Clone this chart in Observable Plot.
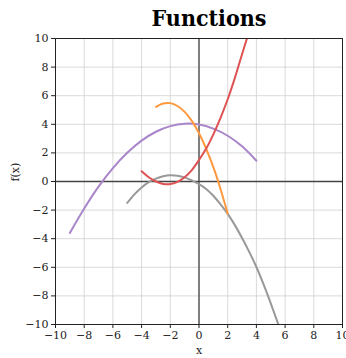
<!DOCTYPE html>
<html><head><meta charset="utf-8">
<script src="https://cdn.jsdelivr.net/npm/d3@7"></script>
<script src="https://cdn.jsdelivr.net/npm/@observablehq/plot@0.6"></script>
<style>body{margin:0;background:#fff;}</style>
</head><body><div id="chart"></div>
<script>
const tickValues = [-10, -8, -6, -4, -2, 0, 2, 4, 6, 8, 10];

const seriesNames = ["f1", "f2", "f3", "f4"];
const seriesColors = ["#999999", "#a985ca", "#ff993e", "#de5253"];

const xGray = [-5, -4.5, -4, -3.5, -3, -2.5, -2, -1.5, -1, -0.5, 0, 0.5, 1, 1.5, 2, 2.5, 3, 3.5, 4, 4.5, 5, 5.53];
const yGray = [-1.5, -0.9, -0.42, -0.05, 0.2, 0.37, 0.44, 0.41, 0.29, 0.08, -0.18, -0.52, -1.0, -1.6, -2.26, -3.05, -3.95, -4.92, -5.98, -7.2, -8.52, -10];

const xPurple = [-9, -8, -7, -6, -5, -4, -3, -2, -1, 0, 1, 2, 3, 4];
const yPurple = [-3.6, -1.89, -0.36, 0.94, 2.01, 2.86, 3.48, 3.87, 4.04, 3.99, 3.70, 3.20, 2.46, 1.45];

const xOrange = [-3, -2.5, -2, -1.5, -1, -0.5, 0, 0.5, 1, 1.5, 2];
const yOrange = [5.22, 5.46, 5.48, 5.28, 4.87, 4.24, 3.37, 2.29, 1.0, -0.52, -2.26];

const xRed = [-4, -3.5, -3, -2.5, -2, -1.5, -1, -0.5, 0, 0.5, 1, 1.5, 2, 2.5, 3, 3.37];
const yRed = [0.72, 0.3, 0.0, -0.17, -0.18, -0.02, 0.3, 0.8, 1.5, 2.3, 3.3, 4.45, 5.75, 7.25, 8.9, 10.1];

const seriesX = [xGray, xPurple, xOrange, xRed];
const seriesY = [yGray, yPurple, yOrange, yRed];

const rows = seriesNames.flatMap((name, k) =>
  seriesX[k].map((x, i) => ({series: name, x, y: seriesY[k][i]})));

const fmt = d => d < 0 ? "\u2212" + (-d) : String(d);
const font = "DejaVu Serif";

const chart = Plot.plot({
  width: 346, height: 358,
  marginLeft: 55, marginRight: 4, marginTop: 38, marginBottom: 34,
  style: {fontFamily: font, fontSize: "11px", background: "#fff", color: "#222", overflow: "visible"},
  x: {domain: [-10, 10], label: null, axis: null},
  y: {domain: [-10, 10], label: null, axis: null},
  color: {domain: seriesNames, range: seriesColors},
  marks: [
    Plot.gridX(tickValues, {stroke: "#cfcfcf", strokeOpacity: 1, strokeWidth: 0.8}),
    Plot.gridY(tickValues, {stroke: "#cfcfcf", strokeOpacity: 1, strokeWidth: 0.8}),
    Plot.ruleX([0], {stroke: "#444", strokeWidth: 1.3}),
    Plot.ruleY([0], {stroke: "#444", strokeWidth: 1.3}),
    Plot.line(rows, {x: "x", y: "y", z: "series", stroke: "series", strokeWidth: 2, curve: "catmull-rom", clip: true}),
    Plot.frame({stroke: "#222", strokeWidth: 1}),
    Plot.axisX(tickValues, {tickSize: 4, tickPadding: 3, tickFormat: fmt, label: null, stroke: "#222", fill: "#222"}),
    Plot.axisY(tickValues, {tickSize: 4, tickPadding: 3, tickFormat: fmt, label: null, stroke: "#222", fill: "#222"}),
    Plot.text(["x"], {frameAnchor: "bottom", dy: 29, fontSize: 11, fill: "#222"}),
    Plot.text(["f(x)"], {frameAnchor: "left", dx: -40, rotate: -90, fontSize: 11, fill: "#222"}),
    Plot.text(["Functions"], {frameAnchor: "top", dx: 10, dy: -13, lineAnchor: "bottom", fontSize: 23, fontWeight: "bold", fill: "#000", fontFamily: "'DejaVu Serif Condensed', 'DejaVu Serif'", fontStretch: "condensed"})
  ]
});
document.getElementById("chart").appendChild(chart);
</script>
</body></html>
